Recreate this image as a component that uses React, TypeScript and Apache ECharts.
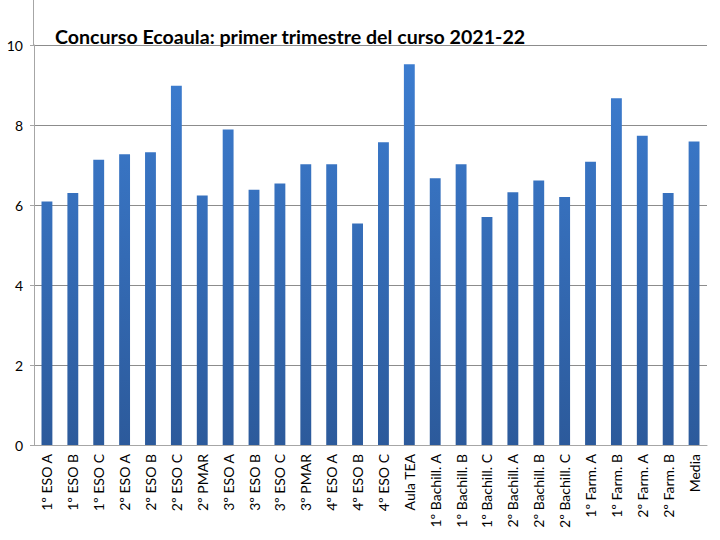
import { useEffect, useRef } from 'react'
import * as echarts from 'echarts'

const groups = [
  '1º ESO A', '1º ESO B', '1º ESO C', '2º ESO A', '2º ESO B', '2º ESO C', '2º PMAR',
  '3º ESO A', '3º ESO B', '3º ESO C', '3º PMAR', '4º ESO A', '4º ESO B', '4º ESO C',
  'Aula TEA', '1º Bachill. A', '1º Bachill. B', '1º Bachill. C', '2º Bachill. A',
  '2º Bachill. B', '2º Bachill. C', '1º Farm. A', '1º Farm. B', '2º Farm. A', '2º Farm. B', 'Media',
]
const scores = [
  6.09, 6.3, 7.13, 7.27, 7.32, 8.98, 6.24,
  7.89, 6.38, 6.54, 7.02, 7.02, 5.54, 7.57,
  9.52, 6.67, 7.02, 5.7, 6.32,
  6.61, 6.2, 7.08, 8.67, 7.73, 6.3, 7.59,
]
const yMax = 10
const yStep = 2

const font = 'Lato, "Open Sans", sans-serif'

export default function App() {
  const chartRef = useRef<HTMLDivElement>(null)

  useEffect(() => {
    if (!chartRef.current) return
    const chart = echarts.init(chartRef.current, null, { renderer: 'svg' })
    chart.setOption({
      animation: false,
      backgroundColor: '#fff',
      title: {
        text: 'Concurso Ecoaula: primer trimestre del curso 2021-22',
        left: 50,
        top: 21,
        textStyle: { fontFamily: font, fontWeight: 'bold', fontSize: 19.6, color: '#000' },
      },
      grid: { left: 34, right: 13, top: 45, bottom: 95, outerBoundsMode: 'none' },
      graphic: [
        { type: 'line', shape: { x1: 33.5, y1: 0, x2: 33.5, y2: 45 }, style: { stroke: '#a6a6a6', lineWidth: 1 } },
      ],
      xAxis: {
        type: 'category',
        data: groups,
        axisLine: { lineStyle: { color: '#a6a6a6' } },
        axisTick: { length: 4, lineStyle: { color: '#a6a6a6' } },
        axisLabel: { rotate: 90, interval: 0, fontSize: 14, color: '#000', margin: 9, fontFamily: font },
      },
      yAxis: {
        type: 'value',
        min: 0,
        max: yMax,
        interval: yStep,
        axisLine: { show: true, lineStyle: { color: '#a6a6a6' } },
        axisTick: { show: true, length: 4, lineStyle: { color: '#a6a6a6' } },
        splitLine: { lineStyle: { color: '#8c8c8c' } },
        axisLabel: { fontSize: 14, color: '#000', margin: 11, fontFamily: font },
      },
      series: [
        {
          type: 'bar',
          data: scores,
          barWidth: '42%',
          itemStyle: {
            color: new echarts.graphic.LinearGradient(0, 45, 0, 445, [
              { offset: 0, color: '#3d7ed2' },
              { offset: 1, color: '#2c5a9b' },
            ], true),
          },
        },
      ],
    })
    return () => chart.dispose()
  }, [])

  return <div ref={chartRef} style={{ position: 'absolute', left: 0, top: 0, width: 720, height: 540 }} />
}
